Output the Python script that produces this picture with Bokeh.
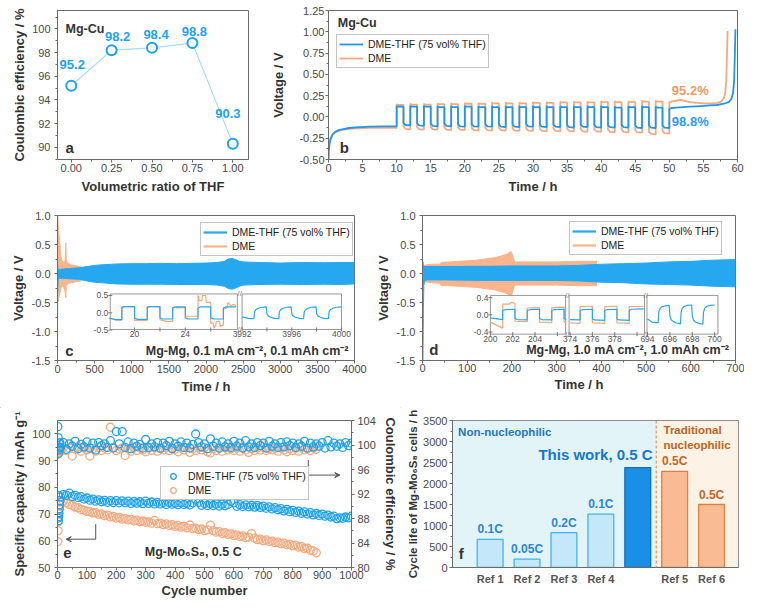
import numpy as np
from bokeh.plotting import figure
from bokeh.models import (Range1d, LinearAxis, FixedTicker, PrintfTickFormatter,
                          Legend, LegendItem, Span, BoxAnnotation, Div, Arrow, VeeHead)
from bokeh.layouts import row, column
from bokeh.core.properties import value
from bokeh.embed import file_html
from bokeh.resources import INLINE

FONT = "Liberation Sans"
BLUE = "#1f98ea"
BLUE_BAND = "#25a8f0"
BLUE_PT = "#1ea2f0"
BLUE_LT = "#a9dcf7"
ORANGE = "#f6a97e"
ORANGE_BAND = "#f8b48c"
AXC = "#6b6b6b"
TICKC = "#4a4a4a"
LABC = "#333333"

# ======================= DATA =======================
# (a) Coulombic efficiency vs THF ratio
a_ratio = [0.00, 0.25, 0.50, 0.75, 1.00]
a_ce = [95.2, 98.2, 98.4, 98.8, 90.3]
a_text = ["95.2", "98.2", "98.4", "98.8", "90.3"]

# (b) Mg-Cu Aurbach test
b_init_t = [0.0, 0.05, 0.15, 0.3, 0.6, 1.0, 1.5, 2.0, 3.0, 4.0, 6.0, 8.0, 10.0]
b_init_blue = [-0.50, -0.40, -0.32, -0.26, -0.205, -0.175, -0.155, -0.145, -0.13, -0.122, -0.115, -0.112, -0.110]
b_init_orange = [-0.38, -0.33, -0.29, -0.25, -0.21, -0.18, -0.163, -0.152, -0.14, -0.133, -0.128, -0.127, -0.128]
b_cyc_t = [10, 12, 14, 16, 18, 20, 22, 24, 26, 28, 30, 32, 34, 36, 38, 40, 42, 44, 46, 48]
b_strip_blue = [0.12, 0.12, 0.12, 0.115, 0.115, 0.12, 0.115, 0.115, 0.115, 0.115,
                0.115, 0.115, 0.115, 0.115, 0.115, 0.115, 0.11, 0.115, 0.115, 0.11]
b_plate_blue = [-0.10, -0.105, -0.11, -0.11, -0.115, -0.115, -0.115, -0.12, -0.12, -0.115,
                -0.12, -0.12, -0.125, -0.12, -0.125, -0.125, -0.125, -0.13, -0.13, -0.13]
b_strip_orange = [0.14, 0.145, 0.145, 0.15, 0.15, 0.155, 0.155, 0.16, 0.16, 0.16,
                  0.165, 0.165, 0.17, 0.17, 0.17, 0.175, 0.175, 0.175, 0.18, 0.18]
b_plate_orange = [-0.145, -0.15, -0.15, -0.155, -0.155, -0.16, -0.16, -0.16, -0.165, -0.165,
                  -0.17, -0.17, -0.17, -0.175, -0.175, -0.18, -0.18, -0.185, -0.205, -0.195]
b_final_t_blue = [50.0, 50.3, 51, 52, 53, 54, 55, 56, 57, 58, 58.7, 59.1, 59.35, 59.5, 59.6, 59.7]
b_final_blue = [0.095, 0.105, 0.11, 0.115, 0.12, 0.125, 0.13, 0.135, 0.14, 0.155, 0.175, 0.21, 0.28, 0.42, 0.70, 1.03]
b_final_t_orange = [50.0, 50.3, 51.0, 51.6, 52.2, 53, 54, 55, 56, 57, 57.6, 58.0, 58.2, 58.35, 58.45, 58.55]
b_final_orange = [0.175, 0.18, 0.19, 0.20, 0.19, 0.175, 0.165, 0.16, 0.16, 0.165, 0.18, 0.22, 0.28, 0.42, 0.70, 1.01]

# (c) Mg-Mg 0.1 mA cm-2 : envelope of the voltage oscillation
c_t = [0, 3, 8, 15, 30, 60, 100, 150, 200, 300, 400, 500, 600, 800, 1000, 1200, 1400, 1600, 1800, 2000,
       2150, 2250, 2300, 2350, 2400, 2450, 2500, 2700, 3000, 3300, 3600, 3800, 4000]
c_blue_hi = [0.20, 0.10, 0.08, 0.07, 0.07, 0.075, 0.08, 0.085, 0.09, 0.10, 0.12, 0.14, 0.15, 0.165, 0.17, 0.17,
             0.175, 0.17, 0.175, 0.18, 0.19, 0.21, 0.25, 0.26, 0.24, 0.21, 0.20, 0.19, 0.18, 0.19, 0.185, 0.19, 0.19]
c_blue_lo = [-0.88, -0.30, -0.12, -0.09, -0.08, -0.08, -0.085, -0.09, -0.095, -0.10, -0.13, -0.15, -0.16, -0.18,
             -0.185, -0.185, -0.185, -0.19, -0.19, -0.19, -0.20, -0.22, -0.26, -0.27, -0.25, -0.22, -0.20, -0.19,
             -0.185, -0.19, -0.185, -0.19, -0.18]
c_o_t = [0, 3, 8, 15, 25, 35, 45, 60, 80, 100, 108, 112, 118, 130, 150, 180, 220, 260, 300, 330, 345]
c_o_hi = [0.30, 1.00, 0.90, 0.70, 0.62, 0.45, 0.30, 0.22, 0.20, 0.20, 0.35, 0.53, 0.25, 0.19, 0.17, 0.15,
          0.14, 0.13, 0.12, 0.11, 0.10]
c_o_lo = [-0.30, -0.50, -0.48, -0.42, -0.38, -0.32, -0.26, -0.22, -0.22, -0.30, -0.36, -0.42, -0.22, -0.19,
          -0.17, -0.16, -0.15, -0.14, -0.13, -0.12, -0.10]
# (c) inset, segment 18-28 h
ci1_t_b = [18.0, 18.5, 19.0, 19.0, 19.2, 20.0, 20.0, 20.2, 21.0, 21.0, 21.2, 22.0, 22.0, 22.2, 23.0,
           23.0, 23.2, 24.0, 24.0, 24.2, 25.0, 25.0, 25.2, 26.0, 26.0, 26.2, 27.0, 27.0, 27.2, 28.0]
ci1_v_b = [-0.15, -0.20, -0.20, 0.15, 0.18, 0.18, -0.15, -0.19, -0.19, 0.15, 0.18, 0.18, -0.15, -0.18, -0.18,
           0.14, 0.17, 0.17, -0.14, -0.18, -0.18, 0.14, 0.17, 0.17, -0.14, -0.18, -0.18, 0.14, 0.17, 0.17]
ci1_t_o = [18.0, 18.5, 19.0, 19.0, 20.0, 20.0, 21.0, 21.0, 22.0, 22.0, 22.5, 23.0, 23.0, 24.0, 24.0, 24.5,
           25.0, 25.0, 25.1, 25.3, 25.35, 25.6, 25.65, 26.0, 26.0, 26.2, 26.25, 26.4, 26.45, 26.7, 26.75,
           27.0, 27.0, 27.3, 27.35, 27.6, 27.8, 28.0]
ci1_v_o = [-0.15, -0.21, -0.21, 0.18, 0.18, -0.22, -0.22, 0.18, 0.18, -0.20, -0.25, -0.25, 0.15, 0.15, -0.10,
           -0.10, -0.10, 0.50, 0.35, 0.35, 0.50, 0.50, 0.30, 0.30, -0.30, -0.30, -0.45, -0.35, -0.25, -0.25,
           -0.40, -0.35, 0.10, 0.15, 0.30, 0.20, 0.25, 0.20]
# (c) inset, segment 3992-4000 h
ci2_t_b = [3992.0, 3992.5, 3992.95, 3993.0, 3993.1, 3993.3, 3993.6, 3993.95, 3994.0, 3994.1, 3994.3, 3994.6,
           3994.95, 3995.0, 3995.1, 3995.3, 3995.6, 3995.95, 3996.0, 3996.1, 3996.3, 3996.6, 3996.95, 3997.0,
           3997.1, 3997.3, 3997.6, 3997.95, 3998.0, 3998.1, 3998.3, 3998.6, 3998.95, 3999.0, 3999.1, 3999.3,
           3999.6, 4000.0]
ci2_v_b = [-0.12, -0.16, -0.17, 0.02, 0.09, 0.13, 0.16, 0.17, -0.03, -0.09, -0.13, -0.16, -0.17, 0.02, 0.09,
           0.13, 0.16, 0.17, -0.03, -0.09, -0.13, -0.16, -0.17, 0.02, 0.09, 0.13, 0.16, 0.17, -0.03, -0.09,
           -0.13, -0.16, -0.17, 0.02, 0.09, 0.13, 0.16, 0.17]

# (d) Mg-Mg 1.0 mA cm-2 : envelopes
d_t = [0, 1, 2, 3, 5, 10, 20, 50, 100, 150, 200, 250, 300, 350, 400, 450, 500, 550, 600, 650, 700]
d_blue_hi = [0.18, 0.20, 0.15, 0.13, 0.12, 0.12, 0.12, 0.12, 0.125, 0.125, 0.13, 0.13, 0.13, 0.14, 0.16,
             0.17, 0.18, 0.20, 0.21, 0.23, 0.24]
d_blue_lo = [-1.50, -1.50, -0.60, -0.20, -0.12, -0.11, -0.11, -0.11, -0.115, -0.12, -0.12, -0.12, -0.12,
             -0.13, -0.15, -0.16, -0.18, -0.19, -0.20, -0.22, -0.23]
d_o_t = [0, 5, 10, 20, 38, 42, 60, 80, 100, 120, 140, 160, 180, 190, 198, 202, 206, 220, 260, 300, 350, 390]
d_o_hi = [0.12, 0.14, 0.15, 0.16, 0.16, 0.19, 0.20, 0.21, 0.22, 0.23, 0.25, 0.27, 0.31, 0.34, 0.38, 0.30,
          0.20, 0.20, 0.20, 0.20, 0.21, 0.21]
d_o_lo = [-0.12, -0.14, -0.15, -0.16, -0.17, -0.21, -0.21, -0.22, -0.23, -0.24, -0.26, -0.28, -0.32, -0.35,
          -0.40, -0.30, -0.20, -0.20, -0.20, -0.20, -0.21, -0.21]
# (d) inset segments
di1_t_b = [200.0, 201.1, 201.1, 201.3, 202.2, 202.2, 202.4, 203.3, 203.3, 203.5, 204.4, 204.4, 204.6, 205.5,
           205.5, 205.7, 206.6, 206.6, 206.8]
di1_v_b = [-0.07, -0.11, 0.10, 0.12, 0.13, -0.09, -0.11, -0.12, 0.10, 0.12, 0.13, -0.09, -0.11, -0.12, 0.10,
           0.12, 0.13, -0.09, -0.11]
di1_t_o = [200.0, 201.1, 201.1, 201.7, 201.85, 202.2, 202.2, 203.3, 203.3, 204.4, 204.4, 205.5, 205.5, 206.6,
           206.6, 206.8]
di1_v_o = [-0.17, -0.31, 0.25, 0.25, 0.29, 0.27, -0.15, -0.16, 0.16, 0.17, -0.17, -0.18, 0.17, 0.18, -0.17, -0.18]
di2_t_b = [374.0, 374.9, 374.9, 375.1, 376.0, 376.0, 376.2, 377.1, 377.1, 377.3, 378.2, 378.2, 378.4, 379.3,
           379.3, 379.5, 380.6]
di2_v_b = [-0.11, -0.12, 0.10, 0.12, 0.13, -0.10, -0.12, -0.13, 0.10, 0.12, 0.13, -0.10, -0.12, -0.13, 0.11,
           0.13, 0.14]
di2_t_o = [374.0, 374.9, 374.9, 376.0, 376.0, 377.1, 377.1, 378.2, 378.2, 379.3, 379.3, 380.6]
di2_v_o = [-0.19, -0.20, 0.19, 0.20, -0.19, -0.20, 0.19, 0.20, -0.19, -0.20, 0.19, 0.20]
di3_t_b = [694.0, 694.4, 694.95, 695.0, 695.1, 695.3, 695.6, 695.95, 696.0, 696.1, 696.3, 696.6, 696.95,
           697.0, 697.1, 697.3, 697.6, 697.95, 698.0, 698.1, 698.3, 698.6, 698.95, 699.0, 699.1, 699.3,
           699.6, 700.0]
di3_v_b = [-0.10, -0.17, -0.19, 0.05, 0.14, 0.19, 0.21, 0.22, -0.02, -0.11, -0.16, -0.19, -0.21, 0.05, 0.15,
           0.20, 0.22, 0.23, -0.02, -0.12, -0.17, -0.20, -0.22, 0.05, 0.15, 0.20, 0.22, 0.23]

# (e) Mg-Mo6S8 cycling
e_cyc_early = [1, 2, 3, 4, 5, 6, 7, 8]
e_cyc_b = list(range(10, 1001, 10))
e_cyc_o = list(range(10, 881, 10))
e_cap_b_early = [77.0, 68.5, 67.5, 69.0, 70.5, 72.0, 73.5, 75.0]
e_cap_b = [76.5, 77.3, 77.0, 77.8, 76.6, 77.0, 76.2, 76.5, 75.6, 76.0,
           75.2, 75.6, 74.8, 75.3, 74.6, 75.1, 74.4, 75.0, 74.3, 75.0,
           74.2, 74.9, 74.2, 74.8, 74.0, 74.7, 74.1, 74.6, 73.9, 74.8,
           74.0, 74.5, 73.8, 74.4, 73.8, 74.3, 73.6, 74.3, 73.7, 74.1,
           73.5, 74.2, 73.6, 74.0, 73.4, 74.2, 75.6, 74.4, 73.3, 74.0,
           73.2, 73.9, 73.2, 73.8, 73.0, 73.7, 73.1, 73.6, 74.8, 74.2,
           72.9, 73.5, 72.8, 73.4, 72.7, 73.3, 72.6, 73.2, 72.5, 73.0,
           72.2, 72.7, 71.9, 72.4, 71.6, 72.0, 71.2, 71.7, 70.9, 71.4,
           70.6, 71.1, 70.3, 70.8, 70.0, 70.5, 69.7, 70.2, 69.5, 70.0,
           69.2, 69.6, 68.9, 69.2, 68.3, 68.6, 68.4, 68.9, 68.6, 69.2]
e_cap_o_early = [59.7, 63.8, 67.0, 70.0, 72.0, 73.5, 74.5, 75.0]
e_cap_o = [75.0, 74.8, 74.2, 73.6, 73.3, 72.6, 72.4, 71.7, 71.5, 71.0,
           70.9, 70.4, 70.5, 69.9, 70.0, 69.4, 69.6, 68.9, 69.1, 68.5,
           68.7, 68.1, 68.3, 67.8, 68.0, 67.4, 67.7, 67.2, 67.4, 66.9,
           67.1, 66.6, 67.6, 66.4, 66.6, 66.0, 66.3, 65.7, 66.0, 65.4,
           65.7, 65.1, 65.4, 64.8, 65.9, 64.6, 64.7, 64.2, 64.4, 63.8,
           64.1, 65.8, 63.8, 63.2, 63.4, 62.8, 63.0, 62.4, 62.6, 62.0,
           62.2, 61.6, 61.8, 61.2, 61.4, 62.7, 61.0, 60.4, 60.6, 60.0,
           60.3, 59.7, 59.9, 59.3, 59.5, 58.9, 59.1, 58.5, 58.7, 58.1,
           58.3, 57.6, 57.8, 57.1, 57.2, 56.5, 56.2, 55.5]
e_ce_b_early = [103.0, 101.2, 98.6, 99.2, 99.6, 100.2, 99.5, 100.4]
e_ce_b = [99.6, 100.4, 99.3, 100.2, 99.8, 100.6, 99.4, 100.1, 99.7, 100.5,
          99.5, 100.3, 99.2, 100.4, 99.9, 100.2, 99.6, 100.7, 99.5, 102.2,
          100.2, 102.2, 99.6, 100.5, 99.4, 100.3, 99.8, 100.1, 99.5, 100.9,
          99.6, 100.2, 99.7, 100.4, 99.5, 100.3, 99.9, 100.6, 99.4, 100.2,
          99.8, 100.5, 99.6, 100.3, 99.5, 100.1, 101.8, 100.4, 99.7, 100.2,
          99.4, 101.0, 99.8, 100.3, 99.5, 100.5, 99.7, 100.2, 99.6, 100.6,
          99.8, 100.3, 99.5, 100.7, 99.7, 100.2, 99.6, 100.4, 99.9, 100.3,
          99.5, 100.6, 99.8, 100.2, 99.6, 100.4, 99.7, 100.5, 99.9, 100.3,
          99.6, 100.2, 99.8, 100.6, 99.5, 100.3, 99.7, 100.2, 99.8, 100.4,
          99.5, 100.7, 99.7, 100.3, 99.8, 100.2, 99.6, 100.4, 99.9, 100.3]
e_ce_o_early = [98.5, 99.0, 99.6, 98.8, 99.4, 99.1, 99.7, 99.2]
e_ce_o = [99.0, 99.6, 99.1, 99.5, 98.2, 99.3, 99.7, 99.0, 99.5, 99.2,
          98.2, 99.4, 99.0, 99.6, 99.1, 99.5, 99.2, 102.9, 99.6, 99.1,
          99.3, 99.5, 98.3, 99.4, 99.0, 99.6, 99.1, 99.5, 99.2, 98.9,
          99.5, 99.1, 99.6, 99.0, 99.4, 99.2, 99.6, 99.1, 99.5, 99.3,
          98.9, 99.5, 99.2, 99.6, 98.8, 99.4, 99.1, 99.5, 99.2, 99.6,
          98.9, 98.7, 99.4, 99.1, 99.5, 99.0, 99.6, 99.2, 99.4, 99.1,
          99.5, 99.0, 99.6, 99.2, 98.8, 99.4, 99.1, 99.5, 99.2, 99.6,
          99.1, 99.4, 99.2, 99.5, 99.0, 99.6, 99.2, 98.9, 99.4, 99.1,
          99.5, 99.0, 99.6, 99.2, 99.4, 99.1, 99.5, 99.3]

# (f) cycle-life comparison
f_pos = [1, 2, 3, 4, 5, 6, 7]
f_names = ["Ref 1", "Ref 2", "Ref 3", "Ref 4", "", "Ref 5", "Ref 6"]
f_life = [670, 200, 830, 1270, 2380, 2290, 1500]
f_rate = ["0.1C", "0.05C", "0.2C", "0.1C", "", "0.5C", "0.5C"]
f_split = 5.5

# ======================= HELPERS =======================
def make_fig(w, h, xr, yr, ml, mr, mt, mb):
    p = figure(width=w, height=h, x_range=Range1d(*xr), y_range=Range1d(*yr),
               output_backend="svg", toolbar_location=None,
               min_border_left=ml, min_border_right=mr, min_border_top=mt, min_border_bottom=mb)
    p.grid.visible = False
    p.outline_line_color = AXC
    p.outline_line_width = 1
    p.outline_line_alpha = 1
    p.background_fill_color = "white"
    p.border_fill_color = "white"
    return p


def style_axis(ax, ticks, minor, label, fmt=None, tsize="11px", lsize="13px", mls=2, als=3):
    ax.ticker = FixedTicker(ticks=ticks, minor_ticks=minor)
    if fmt:
        ax.formatter = PrintfTickFormatter(format=fmt)
    ax.axis_label = label
    ax.axis_label_text_font = FONT
    ax.axis_label_text_font_style = "bold"
    ax.axis_label_text_font_size = lsize
    ax.axis_label_text_color = LABC
    ax.major_label_text_font = FONT
    ax.major_label_text_font_size = tsize
    ax.major_label_text_color = TICKC
    ax.axis_line_color = AXC
    ax.major_tick_line_color = AXC
    ax.minor_tick_line_color = AXC
    ax.major_tick_out = 3
    ax.major_tick_in = 0
    ax.minor_tick_out = 2
    ax.minor_tick_in = 0
    ax.major_label_standoff = mls
    ax.axis_label_standoff = als


def px2d(frame, xr, yr, px, py):
    fx0, fx1, fy0, fy1 = frame
    x = xr[0] + (px - fx0) / (fx1 - fx0) * (xr[1] - xr[0])
    y = yr[1] - (py - fy0) / (fy1 - fy0) * (yr[1] - yr[0])
    return x, y


def put_text(p, frame, xr, yr, px, py, txt, size, color, align="left", style="bold"):
    x, y = px2d(frame, xr, yr, px, py)
    p.text(x=[x], y=[y], text=[txt], text_font=value(FONT), text_font_style=style,
           text_font_size=size, text_color=color, text_align=align, text_baseline="middle")


LEG_H = 36


def make_legend(p, items, left, top, frame_h, glyph_w=24):
    lg = Legend(items=[LegendItem(label=l, renderers=[r]) for l, r in items],
                location=(left, frame_h - top - LEG_H))
    lg.label_text_font = FONT
    lg.label_text_font_size = "10.5px"
    lg.label_text_line_height = 1.0
    lg.label_text_color = "#222222"
    lg.border_line_color = "#8a8a8a"
    lg.border_line_width = 1
    lg.background_fill_color = "white"
    lg.background_fill_alpha = 1
    lg.padding = 2
    lg.spacing = 0
    lg.margin = 0
    lg.label_height = 14
    lg.glyph_height = 14
    lg.glyph_width = glyph_w
    lg.label_standoff = 5
    p.add_layout(lg)
    return lg


def frac_range(frame_lo, frame_hi, d_a, px_a, d_b, px_b, flip=False):
    s = (d_b - d_a) / (px_b - px_a)
    if not flip:
        return Range1d(d_a + (frame_lo - px_a) * s, d_a + (frame_hi - px_a) * s)
    return Range1d(d_a + (frame_hi - px_a) * s, d_a + (frame_lo - px_a) * s)


def add_inset(p, tag, frame, yspec, ybox, yticks, ylabels, segs, series):
    fx0, fx1, fy0, fy1 = frame
    ya, pya, yb, pyb = yspec
    yname = tag + "y"
    p.extra_y_ranges[yname] = frac_range(fy0, fy1, ya, pya, yb, pyb, flip=True)
    sy = (yb - ya) / (pyb - pya)
    ybot = ya + (ybox[0] - pya) * sy
    ytop = ya + (ybox[1] - pya) * sy
    prev = None
    for k, (da, pxa, db, pxb, bl, br, ticks, labels) in enumerate(segs):
        xname = "%sx%d" % (tag, k)
        p.extra_x_ranges[xname] = frac_range(fx0, fx1, da, pxa, db, pxb)
        s = (db - da) / (pxb - pxa)
        left = da + (bl - pxa) * s
        right = da + (br - pxa) * s
        kw = dict(x_range_name=xname, y_range_name=yname)
        p.quad(left=[left], right=[right], bottom=[ybot], top=[ytop], fill_color="white",
               line_color="#8c8c8c", line_width=0.9, **kw)
        for (tt, vv, col) in series[k]:
            p.line(tt, vv, line_color=col, line_width=1.2, **kw)
        p.scatter(x=ticks, y=[ybot] * len(ticks), marker="dash", angle=np.pi / 2, size=4,
                  line_color="#777777", **kw)
        p.text(x=ticks, y=[ybot] * len(ticks), text=labels, text_font=value(FONT),
               text_font_size="8.5px", text_color="#555555", text_align="center",
               text_baseline="top", y_offset=2, **kw)
        if k == 0:
            p.text(x=[left] * len(yticks), y=yticks, text=ylabels, text_font=value(FONT),
                   text_font_size="8.5px", text_color="#555555", text_align="right",
                   text_baseline="middle", x_offset=-2, **kw)
            p.scatter(x=[left] * len(yticks), y=yticks, marker="dash", size=4,
                      line_color="#777777", **kw)
        if prev is not None:
            mid = da + ((prev + bl) / 2.0 - pxa) * s
            for yy in (ybot, ytop):
                p.text(x=[mid], y=[yy], text=["//"], text_font=value(FONT), text_font_size="8px",
                       text_color="#777777", text_align="center", text_baseline="middle", **kw)
        prev = br


# ======================= FRAMES (reference pixels) =======================
A_FR = (57.0, 248.0, 3.0, 163.0)
B_FR = (327.7, 739.0, 10.0, 162.7)
C_FR = (57.3, 354.0, 219.0, 370.0)
D_FR = (422.3, 737.7, 220.3, 372.7)
E_FR = (57.3, 352.7, 429.0, 581.7)
F_FR = (451.7, 737.7, 428.3, 581.7)
VS = 0.978  # vertical fit of the reference into the page

# ======================= (a) =======================
AX_R = (-0.085, 1.097)
AY_R = (88.98, 101.55)
pa = make_fig(258, 196, AX_R, AY_R, 57, 10, 3, 37)
style_axis(pa.xaxis[0], [0, 0.25, 0.5, 0.75, 1.0], [0.125, 0.375, 0.625, 0.875],
           "Volumetric ratio of THF", fmt="%.2f", mls=1, als=4)
style_axis(pa.yaxis[0], [90, 92, 94, 96, 98, 100], [89, 91, 93, 95, 97, 99, 101],
           "Coulombic efficiency / %", mls=4, als=2)
pa.line(a_ratio, a_ce, line_color=BLUE_LT, line_width=1.2)
pa.scatter(a_ratio, a_ce, marker="circle", size=10, fill_color="white", line_color=BLUE_PT, line_width=2)
pa.text(x=a_ratio, y=a_ce, text=a_text, x_offset=[1, 6, 4, 2, -5], y_offset=[-21, -14, -13, -12, -30],
        text_font=value(FONT), text_font_style="bold", text_font_size="13px", text_color=BLUE_PT,
        text_align="center", text_baseline="middle")
put_text(pa, A_FR, AX_R, AY_R, 65, 23, "Mg-Cu", "12.5px", LABC)
put_text(pa, A_FR, AX_R, AY_R, 65, 150, "a", "15px", LABC)

# ======================= (b) =======================
BX_R = (0, 60)
BY_R = (-0.5, 1.25)
pb = make_fig(486, 196, BX_R, BY_R, 70, 7, 10, 37)
style_axis(pb.xaxis[0], list(range(0, 61, 5)), [x + 2.5 for x in range(0, 60, 5)], "Time / h", mls=1, als=4)
style_axis(pb.yaxis[0], [-0.5, -0.25, 0, 0.25, 0.5, 0.75, 1.0, 1.25],
           [-0.375, -0.125, 0.125, 0.375, 0.625, 0.875, 1.125], "Voltage / V", fmt="%.2f", mls=1, als=10)


def build_b(init_v, strip, plate, final_t, final_v):
    tt = list(b_init_t)
    vv = list(init_v)
    for k, t0 in enumerate(b_cyc_t):
        tt += [t0, t0 + 0.12, t0 + 1.0, t0 + 1.0, t0 + 1.3, t0 + 2.0]
        vv += [strip[k] + 0.012, strip[k], strip[k], plate[k] + 0.03, plate[k] + 0.005, plate[k]]
    tt += list(final_t)
    vv += list(final_v)
    return tt, vv


bt_o, bv_o = build_b(b_init_orange, b_strip_orange, b_plate_orange, b_final_t_orange, b_final_orange)
bt_b, bv_b = build_b(b_init_blue, b_strip_blue, b_plate_blue, b_final_t_blue, b_final_blue)
rb_o = pb.line(bt_o, bv_o, line_color=ORANGE, line_width=1.8)
rb_b = pb.line(bt_b, bv_b, line_color=BLUE, line_width=1.8)
make_legend(pb, [("DME-THF (75 vol% THF)", rb_b), ("DME", rb_o)], 8, (33 - 10) * VS, 149)
put_text(pb, B_FR, BX_R, BY_R, 337, 23, "Mg-Cu", "12.5px", LABC)
put_text(pb, B_FR, BX_R, BY_R, 339, 150, "b", "15px", LABC)
put_text(pb, B_FR, BX_R, BY_R, 673, 92, "95.2%", "13px", "#f29a62")
put_text(pb, B_FR, BX_R, BY_R, 673, 123.5, "98.8%", "13px", "#2a9cf0")

# ======================= (c) =======================
CX_R = (0, 4000)
CY_R = (-1.5, 1.0)
pc = make_fig(372, 200, CX_R, CY_R, 57, 18, 18, 34)
style_axis(pc.xaxis[0], list(range(0, 4001, 500)), list(range(250, 4000, 500)), "Time / h", mls=1, als=3)
style_axis(pc.yaxis[0], [-1.5, -1.0, -0.5, 0.0, 0.5, 1.0], [-1.25, -0.75, -0.25, 0.25, 0.75],
           "Voltage / V", fmt="%.1f", mls=4, als=3)
pc.varea(x=c_o_t, y1=c_o_lo, y2=c_o_hi, fill_color=ORANGE_BAND)
pc.line(c_o_t, c_o_hi, line_color=ORANGE_BAND, line_width=1)
pc.line(c_o_t, c_o_lo, line_color=ORANGE_BAND, line_width=1)
pc.varea(x=c_t, y1=c_blue_lo, y2=c_blue_hi, fill_color=BLUE_BAND)
pc.line(c_t, c_blue_hi, line_color=BLUE_BAND, line_width=1)
pc.line(c_t, c_blue_lo, line_color=BLUE_BAND, line_width=1)
lc_b = pc.line([np.nan], [np.nan], line_color=BLUE_BAND, line_width=2.2)
lc_o = pc.line([np.nan], [np.nan], line_color=ORANGE_BAND, line_width=2.2)
make_legend(pc, [("DME-THF (75 vol% THF)", lc_b), ("DME", lc_o)], 143, (227.3 - 219) * VS, 148)
add_inset(pc, "ci", C_FR, (-0.5, 338.3, 0.5, 302.3), (337.7, 300.7), [-0.5, 0.0, 0.5], ["-0.5", "0.0", "0.5"],
          [(20, 134.3, 24, 185.0, 110.0, 237.0, [20, 22, 24, 26], ["20", "", "24", ""]),
           (3992, 241.7, 4000, 341.0, 241.7, 341.0, [3992, 3994, 3996, 3998, 4000],
            ["3992", "", "3996", "", "4000"])],
          [[(ci1_t_o, ci1_v_o, ORANGE), (ci1_t_b, ci1_v_b, BLUE_BAND)],
           [(ci2_t_b, ci2_v_b, BLUE_BAND)]])
put_text(pc, C_FR, CX_R, CY_R, 65, 360, "c", "15px", LABC)
put_text(pc, C_FR, CX_R, CY_R, 348.5, 360, "Mg-Mg, 0.1 mA cm\u207b\u00b2, 0.1 mAh cm\u207b\u00b2", "12.5px",
         LABC, align="right")

# ======================= (d) =======================
DX_R = (0, 700)
DY_R = (-1.5, 1.0)
pd_ = make_fig(372, 200, DX_R, DY_R, 50, 9, 19, 33)
style_axis(pd_.xaxis[0], list(range(0, 701, 100)), list(range(50, 700, 100)), "Time / h", mls=0, als=2)
style_axis(pd_.yaxis[0], [-1.5, -1.0, -0.5, 0.0, 0.5, 1.0], [-1.25, -0.75, -0.25, 0.25, 0.75],
           "Voltage / V", fmt="%.1f", mls=4, als=3)
pd_.varea(x=d_o_t, y1=d_o_lo, y2=d_o_hi, fill_color=ORANGE_BAND)
pd_.line(d_o_t, d_o_hi, line_color=ORANGE_BAND, line_width=1)
pd_.line(d_o_t, d_o_lo, line_color=ORANGE_BAND, line_width=1)
pd_.varea(x=d_t, y1=d_blue_lo, y2=d_blue_hi, fill_color=BLUE_BAND)
pd_.line(d_t, d_blue_hi, line_color=BLUE_BAND, line_width=1)
pd_.line(d_t, d_blue_lo, line_color=BLUE_BAND, line_width=1)
ld_b = pd_.line([np.nan], [np.nan], line_color=BLUE_BAND, line_width=2.2)
ld_o = pd_.line([np.nan], [np.nan], line_color=ORANGE_BAND, line_width=2.2)
make_legend(pd_, [("DME-THF (75 vol% THF)", ld_b), ("DME", ld_o)], 147, (227.3 - 220.3) * VS, 148)
add_inset(pd_, "di", D_FR, (-0.4, 342.7, 0.4, 306.7), (345.0, 304.3), [-0.4, 0.0, 0.4], ["-0.4", "0.0", "0.4"],
          [(200, 490.7, 204, 535.7, 490.7, 566.5, [200, 202, 204, 206], ["200", "202", "204", ""]),
           (374, 571.0, 378, 616.0, 570.0, 646.0, [374, 376, 378, 380], ["374", "376", "378", ""]),
           (694, 649.0, 700, 716.7, 648.5, 720.0, [694, 696, 698, 700], ["694", "696", "698", "700"])],
          [[(di1_t_o, di1_v_o, ORANGE), (di1_t_b, di1_v_b, BLUE_BAND)],
           [(di2_t_o, di2_v_o, ORANGE), (di2_t_b, di2_v_b, BLUE_BAND)],
           [(di3_t_b, di3_v_b, BLUE_BAND)]])
put_text(pd_, D_FR, DX_R, DY_R, 429, 361, "d", "15px", LABC)
put_text(pd_, D_FR, DX_R, DY_R, 731.5, 362, "Mg-Mg, 1.0 mA cm\u207b\u00b2, 1.0 mAh cm\u207b\u00b2", "12.5px",
         LABC, align="right")

# ======================= (e) =======================
EX_R = (0, 1000)
EY_R = (50, 105)
ECE_R = (80, 104)
pe = make_fig(400, 196, EX_R, EY_R, 57, 47, 16, 32)
pe.extra_y_ranges["ce"] = Range1d(*ECE_R)
style_axis(pe.xaxis[0], list(range(0, 1001, 100)), list(range(50, 1000, 100)), "Cycle number", mls=0, als=1)
style_axis(pe.yaxis[0], [50, 60, 70, 80, 90, 100], [55, 65, 75, 85, 95], "Specific capacity / mAh g\u207b\u00b9",
           mls=4, als=2)
ax_r = LinearAxis(y_range_name="ce")
style_axis(ax_r, [80, 84, 88, 92, 96, 100, 104], [82, 86, 90, 94, 98, 102], "Coulombic efficiency / %",
           mls=3, als=4)
pe.add_layout(ax_r, "right")
re_o = pe.scatter(e_cyc_early + e_cyc_o, e_cap_o_early + e_cap_o, marker="circle", size=8,
                  fill_alpha=0, line_color=ORANGE, line_width=1.3)
pe.scatter(e_cyc_early + e_cyc_o, e_ce_o_early + e_ce_o, marker="circle", size=8, fill_alpha=0,
           line_color=ORANGE, line_width=1.3, y_range_name="ce")
re_b = pe.scatter(e_cyc_early + e_cyc_b, e_cap_b_early + e_cap_b, marker="circle", size=8,
                  fill_alpha=0, line_color=BLUE_PT, line_width=1.3)
pe.scatter(e_cyc_early + e_cyc_b, e_ce_b_early + e_ce_b, marker="circle", size=8, fill_alpha=0,
           line_color=BLUE_PT, line_width=1.3, y_range_name="ce")
make_legend(pe, [("DME-THF (75 vol% THF)", re_b), ("DME", re_o)], 103, (475 - 429) * VS, 148, glyph_w=20)
x1, y1 = px2d(E_FR, EX_R, EY_R, 309.3, 470.0)
x2, y2 = px2d(E_FR, EX_R, EY_R, 309.3, 485.7)
x3, _ = px2d(E_FR, EX_R, EY_R, 341.0, 485.7)
pe.segment(x0=[x1], y0=[y1], x1=[x2], y1=[y2], line_color="#555555", line_width=1)
pe.add_layout(Arrow(end=VeeHead(size=5, line_color="#555555", fill_color="#555555", line_width=1),
                    x_start=x2, y_start=y2, x_end=x3, y_end=y2, line_color="#555555", line_width=1))
x1, y1 = px2d(E_FR, EX_R, EY_R, 95.7, 536.7)
x2, y2 = px2d(E_FR, EX_R, EY_R, 95.7, 552.3)
x3, _ = px2d(E_FR, EX_R, EY_R, 66.0, 552.3)
pe.segment(x0=[x1], y0=[y1], x1=[x2], y1=[y2], line_color="#555555", line_width=1)
pe.add_layout(Arrow(end=VeeHead(size=5, line_color="#555555", fill_color="#555555", line_width=1),
                    x_start=x2, y_start=y2, x_end=x3, y_end=y2, line_color="#555555", line_width=1))
put_text(pe, E_FR, EX_R, EY_R, 63, 567, "e", "15px", LABC)
put_text(pe, E_FR, EX_R, EY_R, 145, 566, "Mg-Mo\u2086S\u2088, 0.5 C", "12.5px", LABC)

# ======================= (f) =======================
FX_R = (-0.02, 7.73)
FY_R = (0, 3500)
pf = make_fig(344, 196, FX_R, FY_R, 52, 6, 16, 32)
style_axis(pf.yaxis[0], list(range(0, 3501, 500)), list(range(250, 3500, 500)),
           "Cycle life of Mg-Mo\u2086S\u2088 cells / h", lsize="11.5px", mls=2, als=1)
style_axis(pf.xaxis[0], [1, 2, 3, 4, 6, 7], [], "", mls=5, als=0)
pf.xaxis[0].major_label_overrides = {1: "Ref 1", 2: "Ref 2", 3: "Ref 3", 4: "Ref 4", 6: "Ref 5", 7: "Ref 6"}
pf.xaxis[0].major_tick_out = 0
pf.xaxis[0].major_label_text_font_style = "bold"
pf.xaxis[0].major_label_text_color = "#555555"
pf.add_layout(BoxAnnotation(right=f_split, fill_color="#e3f4f9", fill_alpha=1, line_alpha=0, level="underlay"))
pf.add_layout(BoxAnnotation(left=f_split, fill_color="#fcf2e6", fill_alpha=1, line_alpha=0, level="underlay"))
pf.add_layout(Span(location=f_split, dimension="height", line_color="#d9874a", line_dash="3 2", line_width=1))
f_fill = ["#c4e8f9", "#c4e8f9", "#c4e8f9", "#c4e8f9", "#1a8fe6", "#f9bb93", "#f9bb93"]
f_line = ["#3fb4f0", "#3fb4f0", "#3fb4f0", "#3fb4f0", "#0f6fbf", "#e0803e", "#e0803e"]
f_tcol = ["#2a86d8", "#2a86d8", "#2a86d8", "#2a86d8", "#2a86d8", "#c8661e", "#c8661e"]
pf.vbar(x=f_pos, top=f_life, width=0.7, fill_color=f_fill, line_color=f_line, line_width=1.3)
pf.text(x=f_pos, y=f_life, text=f_rate, y_offset=-10, text_font=value(FONT), text_font_style="bold",
        text_font_size="12px", text_color=f_tcol, text_align="center", text_baseline="middle")
put_text(pf, F_FR, FX_R, FY_R, 457.3, 440.7, "Non-nucleophilic", "11.5px", "#1d78c6")
put_text(pf, F_FR, FX_R, FY_R, 662.7, 438.3, "Traditional", "11.5px", "#c0641c")
put_text(pf, F_FR, FX_R, FY_R, 662.7, 454.3, "nucleophilic", "11.5px", "#c0641c")
put_text(pf, F_FR, FX_R, FY_R, 594.7, 463.3, "This work, 0.5 C", "15px", "#1478c8", align="center")
put_text(pf, F_FR, FX_R, FY_R, 458, 567, "f", "15px", LABC)

# ======================= LAYOUT =======================
sep = Div(text='<div style="width:744px;height:0;border-top:1px dashed #c6c6c6;margin-top:4px"></div>',
          width=744, height=8, margin=(0, 0, 0, 0))
layout = column(row(pa, pb), row(pc, pd_), sep, row(pe, pf))
open("out.html", "w").write(file_html(layout, INLINE))
